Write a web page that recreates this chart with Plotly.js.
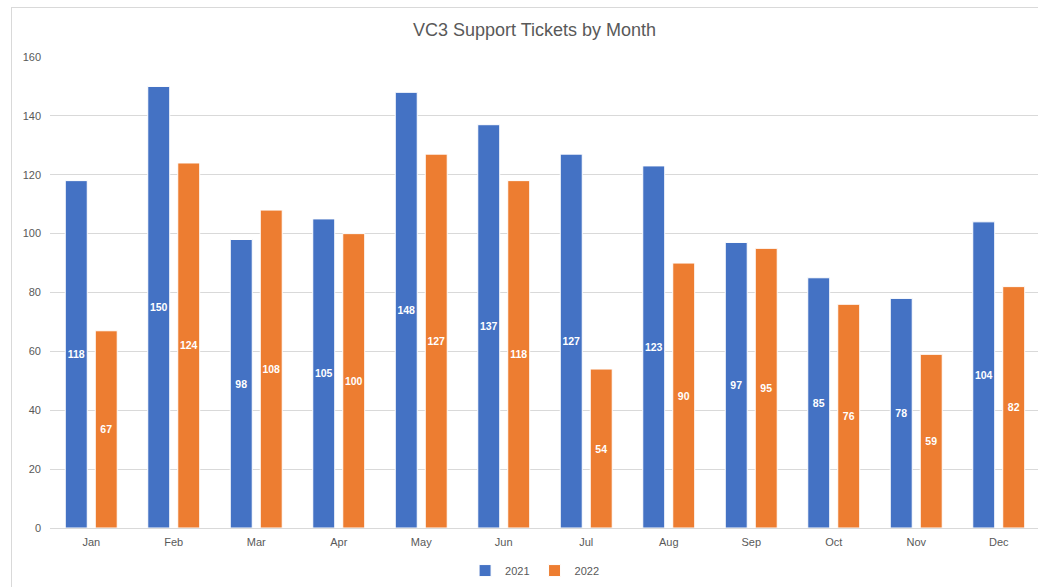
<!DOCTYPE html>
<html>
<head>
<meta charset="utf-8">
<script src="https://cdn.plot.ly/plotly-3.0.1.min.js"></script>
<style>
html,body{margin:0;padding:0;background:#fff;overflow:hidden;}
#wrap{position:relative;width:1038px;height:587px;}
#chart{position:absolute;left:0;top:0;width:1038px;height:587px;}
#frame{position:absolute;left:11px;top:7px;width:1040px;height:600px;border:1px solid #d9d9d9;pointer-events:none;box-sizing:border-box;}
</style>
</head>
<body>
<div id="wrap"><div id="chart"></div><div id="frame"></div></div>
<script>
const months = ["Jan","Feb","Mar","Apr","May","Jun","Jul","Aug","Sep","Oct","Nov","Dec"];
const tickets2021 = [118,150,98,105,148,137,127,123,97,85,78,104];
const tickets2022 = [67,124,108,100,127,118,54,90,95,76,59,82];
const yTicks = [0,20,40,60,80,100,120,140,160];

const font = "Liberation Sans, Arial, sans-serif";
function series(name, vals, color){
  return {
    type:'bar', name:name, x:months, y:vals,
    marker:{color:color, line:{color:'#ffffff', width:1}},
    text:vals.map(String), textposition:'inside', insidetextanchor:'middle',
    textangle:0, constraintext:'none',
    textfont:{family:font, size:10.5, color:'#ffffff', weight:'bold'},
    hoverinfo:'none'
  };
}
const data = [series('2021', tickets2021, '#4472C4'), series('2022', tickets2022, '#ED7D31')];
const layout = {
  width:1038, height:587,
  margin:{l:50, r:0, t:57, b:59},
  paper_bgcolor:'#ffffff', plot_bgcolor:'#ffffff',
  font:{family:font, color:'#595959'},
  title:{text:'VC3 Support Tickets by Month', font:{family:font, size:18, color:'#595959'},
         xref:'container', x:0.515, xanchor:'center', yref:'container', y:0.95, yanchor:'middle'},
  barmode:'group', bargap:0.273, bargroupgap:0.267,
  xaxis:{type:'category', range:[-0.5, 11.476], showgrid:false, showline:false, zeroline:false, color:'#595959',
         ticks:'', tickfont:{family:font, size:11, color:'#595959'}, ticklabelstandoff:6},
  yaxis:{range:[0,160], tickvals:yTicks, ticktext:yTicks.map(String), showgrid:true, gridcolor:'#d9d9d9', gridwidth:1,
         color:'#595959',
         zeroline:true, zerolinecolor:'#d9d9d9', zerolinewidth:1, showline:false, ticks:'',
         tickfont:{family:font, size:11, color:'#595959'}, ticklabelstandoff:8},
  showlegend:true,
  legend:{orientation:'h', xref:'container', x:0.515, xanchor:'center', yref:'container', y:0.028, yanchor:'middle',
          font:{family:font, size:11, color:'#595959'}, itemwidth:30, traceorder:'normal'}
};
Plotly.newPlot('chart', data, layout, {displayModeBar:false, staticPlot:true});
</script>
</body>
</html>
